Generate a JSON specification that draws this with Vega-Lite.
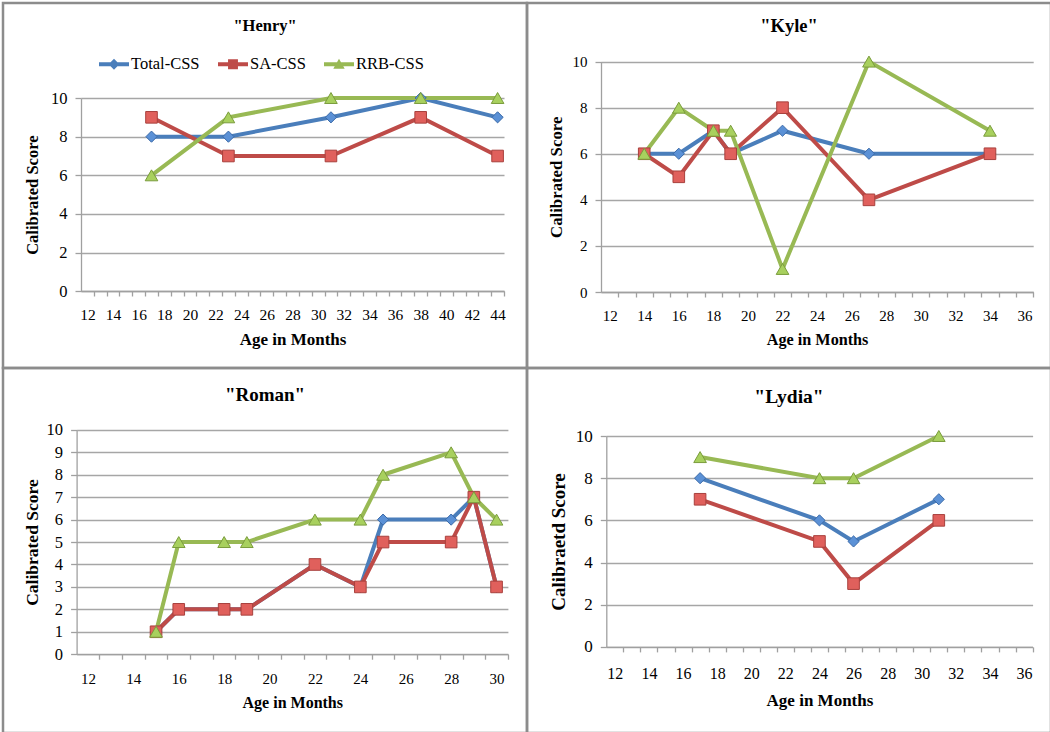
{
  "$schema": "https://vega.github.io/schema/vega-lite/v6.json",
  "padding": 1,
  "bounds": "flush",
  "spacing": 0,
  "columns": 2,
  "datasets": {
    "henry": [
      {"age": 17, "series": "Total-CSS", "score": 8},
      {"age": 23, "series": "Total-CSS", "score": 8},
      {"age": 31, "series": "Total-CSS", "score": 9},
      {"age": 38, "series": "Total-CSS", "score": 10},
      {"age": 44, "series": "Total-CSS", "score": 9},
      {"age": 17, "series": "SA-CSS", "score": 9},
      {"age": 23, "series": "SA-CSS", "score": 7},
      {"age": 31, "series": "SA-CSS", "score": 7},
      {"age": 38, "series": "SA-CSS", "score": 9},
      {"age": 44, "series": "SA-CSS", "score": 7},
      {"age": 17, "series": "RRB-CSS", "score": 6},
      {"age": 23, "series": "RRB-CSS", "score": 9},
      {"age": 31, "series": "RRB-CSS", "score": 10},
      {"age": 38, "series": "RRB-CSS", "score": 10},
      {"age": 44, "series": "RRB-CSS", "score": 10}
    ],
    "kyle": [
      {"age": 14, "series": "Total-CSS", "score": 6},
      {"age": 16, "series": "Total-CSS", "score": 6},
      {"age": 18, "series": "Total-CSS", "score": 7},
      {"age": 19, "series": "Total-CSS", "score": 6},
      {"age": 22, "series": "Total-CSS", "score": 7},
      {"age": 27, "series": "Total-CSS", "score": 6},
      {"age": 34, "series": "Total-CSS", "score": 6},
      {"age": 14, "series": "SA-CSS", "score": 6},
      {"age": 16, "series": "SA-CSS", "score": 5},
      {"age": 18, "series": "SA-CSS", "score": 7},
      {"age": 19, "series": "SA-CSS", "score": 6},
      {"age": 22, "series": "SA-CSS", "score": 8},
      {"age": 27, "series": "SA-CSS", "score": 4},
      {"age": 34, "series": "SA-CSS", "score": 6},
      {"age": 14, "series": "RRB-CSS", "score": 6},
      {"age": 16, "series": "RRB-CSS", "score": 8},
      {"age": 18, "series": "RRB-CSS", "score": 7},
      {"age": 19, "series": "RRB-CSS", "score": 7},
      {"age": 22, "series": "RRB-CSS", "score": 1},
      {"age": 27, "series": "RRB-CSS", "score": 10},
      {"age": 34, "series": "RRB-CSS", "score": 7}
    ],
    "roman": [
      {"age": 15, "series": "Total-CSS", "score": 1},
      {"age": 16, "series": "Total-CSS", "score": 2},
      {"age": 18, "series": "Total-CSS", "score": 2},
      {"age": 19, "series": "Total-CSS", "score": 2},
      {"age": 22, "series": "Total-CSS", "score": 4},
      {"age": 24, "series": "Total-CSS", "score": 3},
      {"age": 25, "series": "Total-CSS", "score": 6},
      {"age": 28, "series": "Total-CSS", "score": 6},
      {"age": 29, "series": "Total-CSS", "score": 7},
      {"age": 30, "series": "Total-CSS", "score": 3},
      {"age": 15, "series": "SA-CSS", "score": 1},
      {"age": 16, "series": "SA-CSS", "score": 2},
      {"age": 18, "series": "SA-CSS", "score": 2},
      {"age": 19, "series": "SA-CSS", "score": 2},
      {"age": 22, "series": "SA-CSS", "score": 4},
      {"age": 24, "series": "SA-CSS", "score": 3},
      {"age": 25, "series": "SA-CSS", "score": 5},
      {"age": 28, "series": "SA-CSS", "score": 5},
      {"age": 29, "series": "SA-CSS", "score": 7},
      {"age": 30, "series": "SA-CSS", "score": 3},
      {"age": 15, "series": "RRB-CSS", "score": 1},
      {"age": 16, "series": "RRB-CSS", "score": 5},
      {"age": 18, "series": "RRB-CSS", "score": 5},
      {"age": 19, "series": "RRB-CSS", "score": 5},
      {"age": 22, "series": "RRB-CSS", "score": 6},
      {"age": 24, "series": "RRB-CSS", "score": 6},
      {"age": 25, "series": "RRB-CSS", "score": 8},
      {"age": 28, "series": "RRB-CSS", "score": 9},
      {"age": 29, "series": "RRB-CSS", "score": 7},
      {"age": 30, "series": "RRB-CSS", "score": 6}
    ],
    "lydia": [
      {"age": 17, "series": "Total-CSS", "score": 8},
      {"age": 24, "series": "Total-CSS", "score": 6},
      {"age": 26, "series": "Total-CSS", "score": 5},
      {"age": 31, "series": "Total-CSS", "score": 7},
      {"age": 17, "series": "SA-CSS", "score": 7},
      {"age": 24, "series": "SA-CSS", "score": 5},
      {"age": 26, "series": "SA-CSS", "score": 3},
      {"age": 31, "series": "SA-CSS", "score": 6},
      {"age": 17, "series": "RRB-CSS", "score": 9},
      {"age": 24, "series": "RRB-CSS", "score": 8},
      {"age": 26, "series": "RRB-CSS", "score": 8},
      {"age": 31, "series": "RRB-CSS", "score": 10}
    ]
  },
  "concat": [
    {
      "width": 524,
      "height": 365,
      "title": {"text": "\"Henry\"", "fontSize": 16.5, "offset": -31},
      "data": {"name": "henry"},
      "encoding": {
        "x": {
          "field": "age", "type": "quantitative",
          "scale": {"domain": [11.5, 44.5], "range": [78, 501], "nice": false, "zero": false},
          "axis": {
            "title": "Age in Months", "titleFontSize": 17, "titlePadding": 8,
            "values": [12, 13, 14, 15, 16, 17, 18, 19, 20, 21, 22, 23, 24, 25, 26, 27, 28, 29, 30, 31, 32, 33, 34, 35, 36, 37, 38, 39, 40, 41, 42, 43, 44],
            "labelExpr": "datum.value % 2 === 0 ? datum.label : ''",
            "tickOffset": 6.41, "labelOffset": -6.41,
            "labelFontSize": 15.5, "labelPadding": 11.5,
            "offset": -77
          }
        },
        "y": {
          "field": "score", "type": "quantitative",
          "scale": {"domain": [0, 10], "range": [288.3, 95], "nice": false},
          "axis": {
            "title": "Calibrated Score", "titleFontSize": 16.5, "titlePadding": 10,
            "values": [0, 2, 4, 6, 8, 10], "labelFontSize": 16.5,
            "offset": -78
          }
        }
      },
      "layer": [
        {
          "mark": {"type": "line", "strokeWidth": 4},
          "encoding": {
            "stroke": {"field": "series", "type": "nominal", "legend": null,
              "scale": {"domain": ["RRB-CSS", "SA-CSS", "Total-CSS"], "range": ["#98b954", "#be4b48", "#4a7ebb"]}}
          }
        },
        {
          "transform": [{"filter": "datum.series === 'Total-CSS'"}],
          "mark": {"type": "point", "shape": "diamond", "filled": true, "opacity": 1, "size": 125, "fill": "#5b91d6", "stroke": "#3b6aa8", "strokeWidth": 1}
        },
        {
          "transform": [{"filter": "datum.series === 'SA-CSS'"}],
          "mark": {"type": "point", "shape": "square", "filled": true, "opacity": 1, "size": 135, "fill": "#e0605c", "stroke": "#a8403d", "strokeWidth": 1}
        },
        {
          "transform": [{"filter": "datum.series === 'RRB-CSS'"}],
          "mark": {"type": "point", "shape": "triangle-up", "filled": true, "opacity": 1, "size": 160, "fill": "#a8d05e", "stroke": "#7a9c3c", "strokeWidth": 1}
        },
        {
          "mark": {"type": "point", "filled": true, "size": 0},
          "encoding": {
            "color": {"field": "series", "type": "nominal",
              "scale": {"domain": ["Total-CSS", "SA-CSS", "RRB-CSS"], "range": ["#4a7ebb", "#be4b48", "#98b954"]},
              "legend": {"orient": "none", "legendX": 96, "legendY": 46, "direction": "horizontal", "title": null, "symbolSize": 900, "symbolOpacity": 1, "symbolStrokeWidth": 0, "labelOffset": 2, "columnPadding": 18, "labelFontSize": 16.5, "labelFont": "Liberation Serif"}},
            "shape": {"field": "series", "type": "nominal",
              "scale": {"domain": ["Total-CSS", "SA-CSS", "RRB-CSS"], "range": [
                "M-1,-0.13H1V0.13H-1Z M0,-0.36L0.36,0L0,0.36L-0.36,0Z",
                "M-1,-0.13H1V0.13H-1Z M-0.33,-0.33H0.33V0.33H-0.33Z",
                "M-1,-0.13H1V0.13H-1Z M0,-0.36L0.38,0.3H-0.38Z"]},
              "legend": {"orient": "none", "legendX": 96, "legendY": 46, "direction": "horizontal", "title": null, "symbolSize": 900, "symbolOpacity": 1, "symbolStrokeWidth": 0, "labelOffset": 2, "columnPadding": 18, "labelFontSize": 16.5, "labelFont": "Liberation Serif"}}
          }
        }
      ]
    },
    {
      "width": 524,
      "height": 365,
      "title": {"text": "\"Kyle\"", "fontSize": 18.5, "offset": -32.5},
      "data": {"name": "kyle"},
      "encoding": {
        "x": {
          "field": "age", "type": "quantitative",
          "scale": {"domain": [11.5, 36.5], "range": [74, 506.2], "nice": false, "zero": false},
          "axis": {
            "title": "Age in Months", "titleFontSize": 16.2, "titlePadding": 8,
            "values": [12, 13, 14, 15, 16, 17, 18, 19, 20, 21, 22, 23, 24, 25, 26, 27, 28, 29, 30, 31, 32, 33, 34, 35, 36],
            "labelExpr": "datum.value % 2 === 0 ? datum.label : ''",
            "tickOffset": 8.64, "labelOffset": -8.64,
            "labelFontSize": 15, "labelPadding": 11,
            "offset": -76
          }
        },
        "y": {
          "field": "score", "type": "quantitative",
          "scale": {"domain": [0, 10], "range": [289, 58.6], "nice": false},
          "axis": {
            "title": "Calibrated Score", "titleFontSize": 16.8, "titlePadding": 7,
            "values": [0, 2, 4, 6, 8, 10], "labelFontSize": 15,
            "offset": -74
          }
        }
      },
      "layer": [
        {
          "mark": {"type": "line", "strokeWidth": 4},
          "encoding": {
            "stroke": {"field": "series", "type": "nominal", "legend": null,
              "scale": {"domain": ["Total-CSS", "SA-CSS", "RRB-CSS"], "range": ["#4a7ebb", "#be4b48", "#98b954"]}}
          }
        },
        {
          "transform": [{"filter": "datum.series === 'Total-CSS'"}],
          "mark": {"type": "point", "shape": "diamond", "filled": true, "opacity": 1, "size": 125, "fill": "#5b91d6", "stroke": "#3b6aa8", "strokeWidth": 1}
        },
        {
          "transform": [{"filter": "datum.series === 'SA-CSS'"}],
          "mark": {"type": "point", "shape": "square", "filled": true, "opacity": 1, "size": 135, "fill": "#e0605c", "stroke": "#a8403d", "strokeWidth": 1}
        },
        {
          "transform": [{"filter": "datum.series === 'RRB-CSS'"}],
          "mark": {"type": "point", "shape": "triangle-up", "filled": true, "opacity": 1, "size": 160, "fill": "#a8d05e", "stroke": "#7a9c3c", "strokeWidth": 1}
        }
      ]
    },
    {
      "width": 524,
      "height": 365,
      "title": {"text": "\"Roman\"", "fontSize": 19, "offset": -37.3},
      "data": {"name": "roman"},
      "encoding": {
        "x": {
          "field": "age", "type": "quantitative",
          "scale": {"domain": [11.5, 30.5], "range": [73.6, 504.9], "nice": false, "zero": false},
          "axis": {
            "title": "Age in Months", "titleFontSize": 16, "titlePadding": 8,
            "values": [12, 13, 14, 15, 16, 17, 18, 19, 20, 21, 22, 23, 24, 25, 26, 27, 28, 29, 30],
            "labelExpr": "datum.value % 2 === 0 ? datum.label : ''",
            "tickOffset": 11.35, "labelOffset": -11.35,
            "labelFontSize": 15, "labelPadding": 12,
            "offset": -78.8
          }
        },
        "y": {
          "field": "score", "type": "quantitative",
          "scale": {"domain": [0, 10], "range": [286.2, 61.9], "nice": false},
          "axis": {
            "title": "Calibrated Score", "titleFontSize": 17.5, "titlePadding": 5,
            "values": [0, 1, 2, 3, 4, 5, 6, 7, 8, 9, 10], "labelFontSize": 16.5,
            "offset": -73.6
          }
        }
      },
      "layer": [
        {
          "mark": {"type": "line", "strokeWidth": 4},
          "encoding": {
            "stroke": {"field": "series", "type": "nominal", "legend": null,
              "scale": {"domain": ["Total-CSS", "SA-CSS", "RRB-CSS"], "range": ["#4a7ebb", "#be4b48", "#98b954"]}}
          }
        },
        {
          "transform": [{"filter": "datum.series === 'Total-CSS'"}],
          "mark": {"type": "point", "shape": "diamond", "filled": true, "opacity": 1, "size": 125, "fill": "#5b91d6", "stroke": "#3b6aa8", "strokeWidth": 1}
        },
        {
          "transform": [{"filter": "datum.series === 'SA-CSS'"}],
          "mark": {"type": "point", "shape": "square", "filled": true, "opacity": 1, "size": 135, "fill": "#e0605c", "stroke": "#a8403d", "strokeWidth": 1}
        },
        {
          "transform": [{"filter": "datum.series === 'RRB-CSS'"}],
          "mark": {"type": "point", "shape": "triangle-up", "filled": true, "opacity": 1, "size": 160, "fill": "#a8d05e", "stroke": "#7a9c3c", "strokeWidth": 1}
        }
      ]
    },
    {
      "width": 524,
      "height": 365,
      "title": {"text": "\"Lydia\"", "fontSize": 19.5, "offset": -39.5},
      "data": {"name": "lydia"},
      "encoding": {
        "x": {
          "field": "age", "type": "quantitative",
          "scale": {"domain": [11.5, 36.5], "range": [79.3, 505.6], "nice": false, "zero": false},
          "axis": {
            "title": "Age in Months", "titleFontSize": 17, "titlePadding": 11,
            "values": [12, 13, 14, 15, 16, 17, 18, 19, 20, 21, 22, 23, 24, 25, 26, 27, 28, 29, 30, 31, 32, 33, 34, 35, 36],
            "labelExpr": "datum.value % 2 === 0 ? datum.label : ''",
            "tickOffset": 8.53, "labelOffset": -8.53,
            "labelFontSize": 16, "labelPadding": 14,
            "offset": -86.1
          }
        },
        "y": {
          "field": "score", "type": "quantitative",
          "scale": {"domain": [0, 10], "range": [278.9, 68], "nice": false},
          "axis": {
            "title": "Calibraetd Score", "titleFontSize": 19, "titlePadding": 7,
            "values": [0, 2, 4, 6, 8, 10], "labelFontSize": 17,
            "offset": -79.3
          }
        }
      },
      "layer": [
        {
          "mark": {"type": "line", "strokeWidth": 4},
          "encoding": {
            "stroke": {"field": "series", "type": "nominal", "legend": null,
              "scale": {"domain": ["Total-CSS", "SA-CSS", "RRB-CSS"], "range": ["#4a7ebb", "#be4b48", "#98b954"]}}
          }
        },
        {
          "transform": [{"filter": "datum.series === 'Total-CSS'"}],
          "mark": {"type": "point", "shape": "diamond", "filled": true, "opacity": 1, "size": 125, "fill": "#5b91d6", "stroke": "#3b6aa8", "strokeWidth": 1}
        },
        {
          "transform": [{"filter": "datum.series === 'SA-CSS'"}],
          "mark": {"type": "point", "shape": "square", "filled": true, "opacity": 1, "size": 135, "fill": "#e0605c", "stroke": "#a8403d", "strokeWidth": 1}
        },
        {
          "transform": [{"filter": "datum.series === 'RRB-CSS'"}],
          "mark": {"type": "point", "shape": "triangle-up", "filled": true, "opacity": 1, "size": 160, "fill": "#a8d05e", "stroke": "#7a9c3c", "strokeWidth": 1}
        }
      ]
    }
  ],
  "config": {
    "font": "Liberation Serif",
    "background": "white",
    "concat": {"spacing": 0},
    "view": {"stroke": "#8c8c8c", "strokeWidth": 2.5},
    "title": {"font": "Liberation Serif", "fontWeight": "bold", "color": "black", "anchor": "middle", "frame": "group", "baseline": "alphabetic"},
    "axis": {
      "labelFont": "Liberation Serif", "titleFont": "Liberation Serif",
      "labelColor": "black", "titleColor": "black", "titleFontWeight": "bold",
      "domainColor": "#a0a0a0", "domainWidth": 1.3,
      "tickColor": "#a0a0a0", "tickWidth": 1.3,
      "gridColor": "#a6a6a6", "gridWidth": 1.3,
      "labelFlush": false, "labelOverlap": false
    },
    "axisX": {"grid": false, "tickSize": 5},
    "axisY": {"grid": true, "tickSize": 6, "labelPadding": 8},
    "legend": {"labelFont": "Liberation Serif", "labelColor": "black", "padding": 0}
  }
}
